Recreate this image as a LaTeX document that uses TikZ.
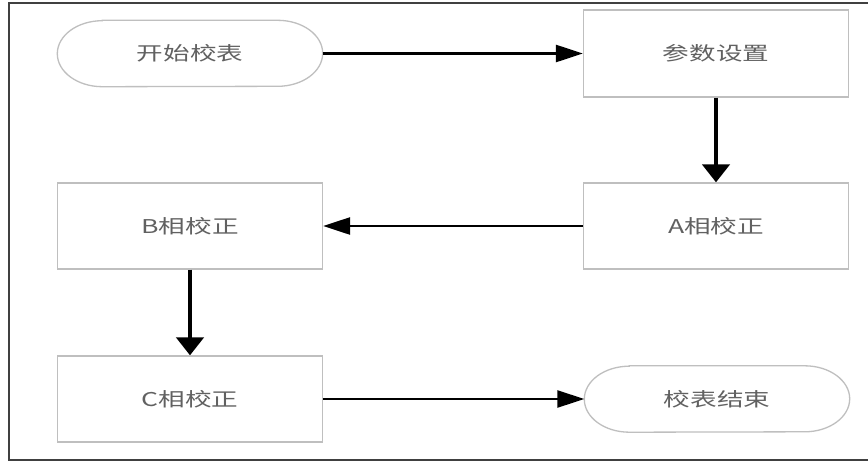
\documentclass[tikz,border=0pt]{standalone}
\usepackage{fontspec}
\newfontfamily\cjk{Noto Sans CJK SC}
\usetikzlibrary{arrows.meta}
\newcommand\widetext[1]{\scalebox{1.4}[1]{#1}}
\tikzset{
  x=1pt, y=-1pt,
  boxnode/.style={draw=black!25, line width=1.3pt, rectangle, inner sep=0pt,
    minimum width=265pt, minimum height=86pt, text=black!62,
    font=\cjk\fontsize{19pt}{19pt}\selectfont},
  termnode/.style={draw=none, rectangle, inner sep=0pt,
    minimum width=265pt, minimum height=66pt, text=black!62,
    font=\cjk\fontsize{19pt}{19pt}\selectfont},
  termline/.style={draw=black!25, line width=1.3pt},
  harrow/.style={line width=2.6pt, -{Triangle[length=27pt,width=17pt]}},
  varrow/.style={line width=4.5pt, -{Triangle[length=18pt,width=27pt]}},
  frameline/.style={draw=black!75, line width=2pt}
}
\begin{document}
\begin{tikzpicture}
\useasboundingbox (0,0) rectangle (868,461);
\fill[white] (0,0) rectangle (868,461);
\draw[frameline] (868,3) -- (8.5,3) -- (8.5,460) -- (868,460);

\node[termnode] (start) at (190,53.5) {\widetext{开始校表}};
\node[boxnode, minimum height=87pt] (param) at (716,53.5) {\widetext{参数设置}};
\node[boxnode] (A) at (716,226) {\widetext{A相校正}};
\node[boxnode] (B) at (190,226) {\widetext{B相校正}};
\node[boxnode] (C) at (190,399) {\widetext{C相校正}};
\node[termnode] (end) at (717,399) {\widetext{校表结束}};

\foreach \n in {start,end}{
  \draw[termline] ([xshift=45pt]\n.north west) -- ([xshift=-45pt]\n.north east)
    arc[start angle=90,end angle=-90,x radius=45pt,y radius=33pt]
    -- ([xshift=45pt]\n.south west)
    arc[start angle=270,end angle=90,x radius=45pt,y radius=33pt] -- cycle;
}

\draw[harrow] (start.east) -- (param.west);
\draw[varrow] (param.south) -- (A.north);
\draw[harrow] (A.west) -- (B.east);
\draw[varrow] (B.south) -- (C.north);
\draw[harrow] (C.east) -- (end.west);
\end{tikzpicture}
\end{document}
